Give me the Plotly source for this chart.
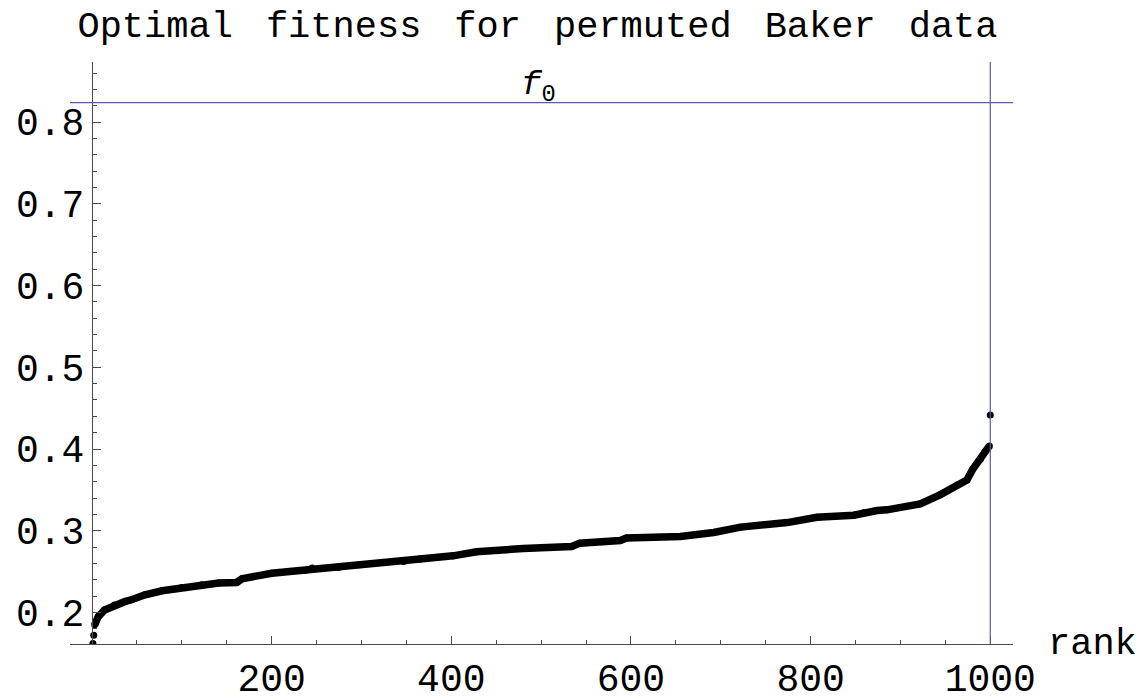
import plotly.graph_objects as go

# ---- data ----
rank = [1, 2, 3, 7, 14, 25, 37, 44, 59, 78, 100, 122, 141, 161, 167, 200, 237, 245,
        274, 297, 326, 347, 365, 402, 428, 480, 534, 543, 588, 595, 655, 692, 722,
        774, 807, 848, 859, 874, 885, 922, 944, 963, 974, 980, 989, 994, 999, 1000]
fitness = [0.162, 0.172, 0.185, 0.195, 0.203, 0.209, 0.2135, 0.2155, 0.2216, 0.2265,
           0.2306, 0.2339, 0.236, 0.2367, 0.2412, 0.248, 0.2514, 0.2543, 0.255, 0.2583,
           0.261, 0.2623, 0.2653, 0.2693, 0.2742, 0.2782, 0.2807, 0.2848, 0.288, 0.291,
           0.293, 0.2978, 0.3044, 0.31, 0.3165, 0.319, 0.322, 0.3247, 0.3256, 0.3329,
           0.3439, 0.3561, 0.3622, 0.3745, 0.3875, 0.3968, 0.4038, 0.4417]
f0 = 0.824
n_max = 1000
x_ticks = [200, 400, 600, 800, 1000]
y_ticks = [0.2, 0.3, 0.4, 0.5, 0.6, 0.7, 0.8]
y_tick_text = ["0.2", "0.3", "0.4", "0.5", "0.6", "0.7", "0.8"]
title_words = ["Optimal", "fitness", "for", "permuted", "Baker", "data"]

MONO = "Liberation Mono, Courier New, monospace"
AX = "#4a4a4a"
LINE_BLUE = "rgb(90,90,175)"

fig = go.Figure()
# continuous band of sorted points (between the isolated end points)
fig.add_trace(go.Scatter(x=rank[2:-1], y=fitness[2:-1], mode="lines",
                         line=dict(color="black", width=7.5), hoverinfo="skip",
                         showlegend=False))
fig.add_trace(go.Scatter(x=rank, y=fitness, mode="markers",
                         marker=dict(color="black", size=7), cliponaxis=True,
                         showlegend=False))

xr = [-24.5, 1025.3]
yr = [0.1614, 0.8736]

fig.add_shape(type="line", xref="paper", x0=0, x1=1, yref="y", y0=f0, y1=f0,
              line=dict(color=LINE_BLUE, width=1.2))
fig.add_shape(type="line", xref="x", x0=n_max, x1=n_max, yref="paper", y0=0, y1=1,
              line=dict(color=LINE_BLUE, width=1.2))

fig.add_annotation(x=497, y=f0, xref="x", yref="y", text="<i>f</i><sub>0</sub>",
                   showarrow=False, xanchor="center", yanchor="bottom", yshift=-7,
                   font=dict(family=MONO, size=34, color="black"))
fig.add_annotation(x=1.035, y=0, xref="paper", yref="paper", text="rank",
                   showarrow=False, xanchor="left", yanchor="middle", yshift=0,
                   font=dict(family=MONO, size=37, color="black"))

space = '<span style="font-size:55px">\u00a0</span>'
title_text = space.join(title_words)

fig.update_layout(
    width=1146, height=700,
    margin=dict(l=70, r=133, t=62, b=56, autoexpand=False),
    paper_bgcolor="white", plot_bgcolor="white",
    title=dict(text=title_text, xref="container", yref="container",
               x=537.5 / 1146, xanchor="center", y=1 - 24 / 700, yanchor="middle",
               font=dict(family=MONO, size=37, color="black")),
    xaxis=dict(range=xr, showgrid=False, zeroline=False, showline=True,
               automargin=False,
               linecolor=AX, linewidth=1, ticks="inside", ticklen=8, tickwidth=1,
               tickcolor=AX, tickvals=x_ticks, ticktext=[str(v) for v in x_ticks],
               tickfont=dict(family=MONO, size=38, color="black"),
               minor=dict(dtick=50, tick0=0, ticks="inside", ticklen=4,
                          tickcolor=AX, tickwidth=1)),
    yaxis=dict(range=yr, showgrid=False, zeroline=False, showline=True,
               automargin=False,
               anchor="free", position=(0 - xr[0]) / (xr[1] - xr[0]),
               linecolor=AX, linewidth=1, ticks="inside", ticklen=8, tickwidth=1,
               tickcolor=AX, tickvals=y_ticks, ticktext=y_tick_text,
               tickfont=dict(family=MONO, size=38, color="black"),
               minor=dict(dtick=0.02, tick0=0, ticks="inside", ticklen=4,
                          tickcolor=AX, tickwidth=1)),
)

fig.write_html("out.html")
